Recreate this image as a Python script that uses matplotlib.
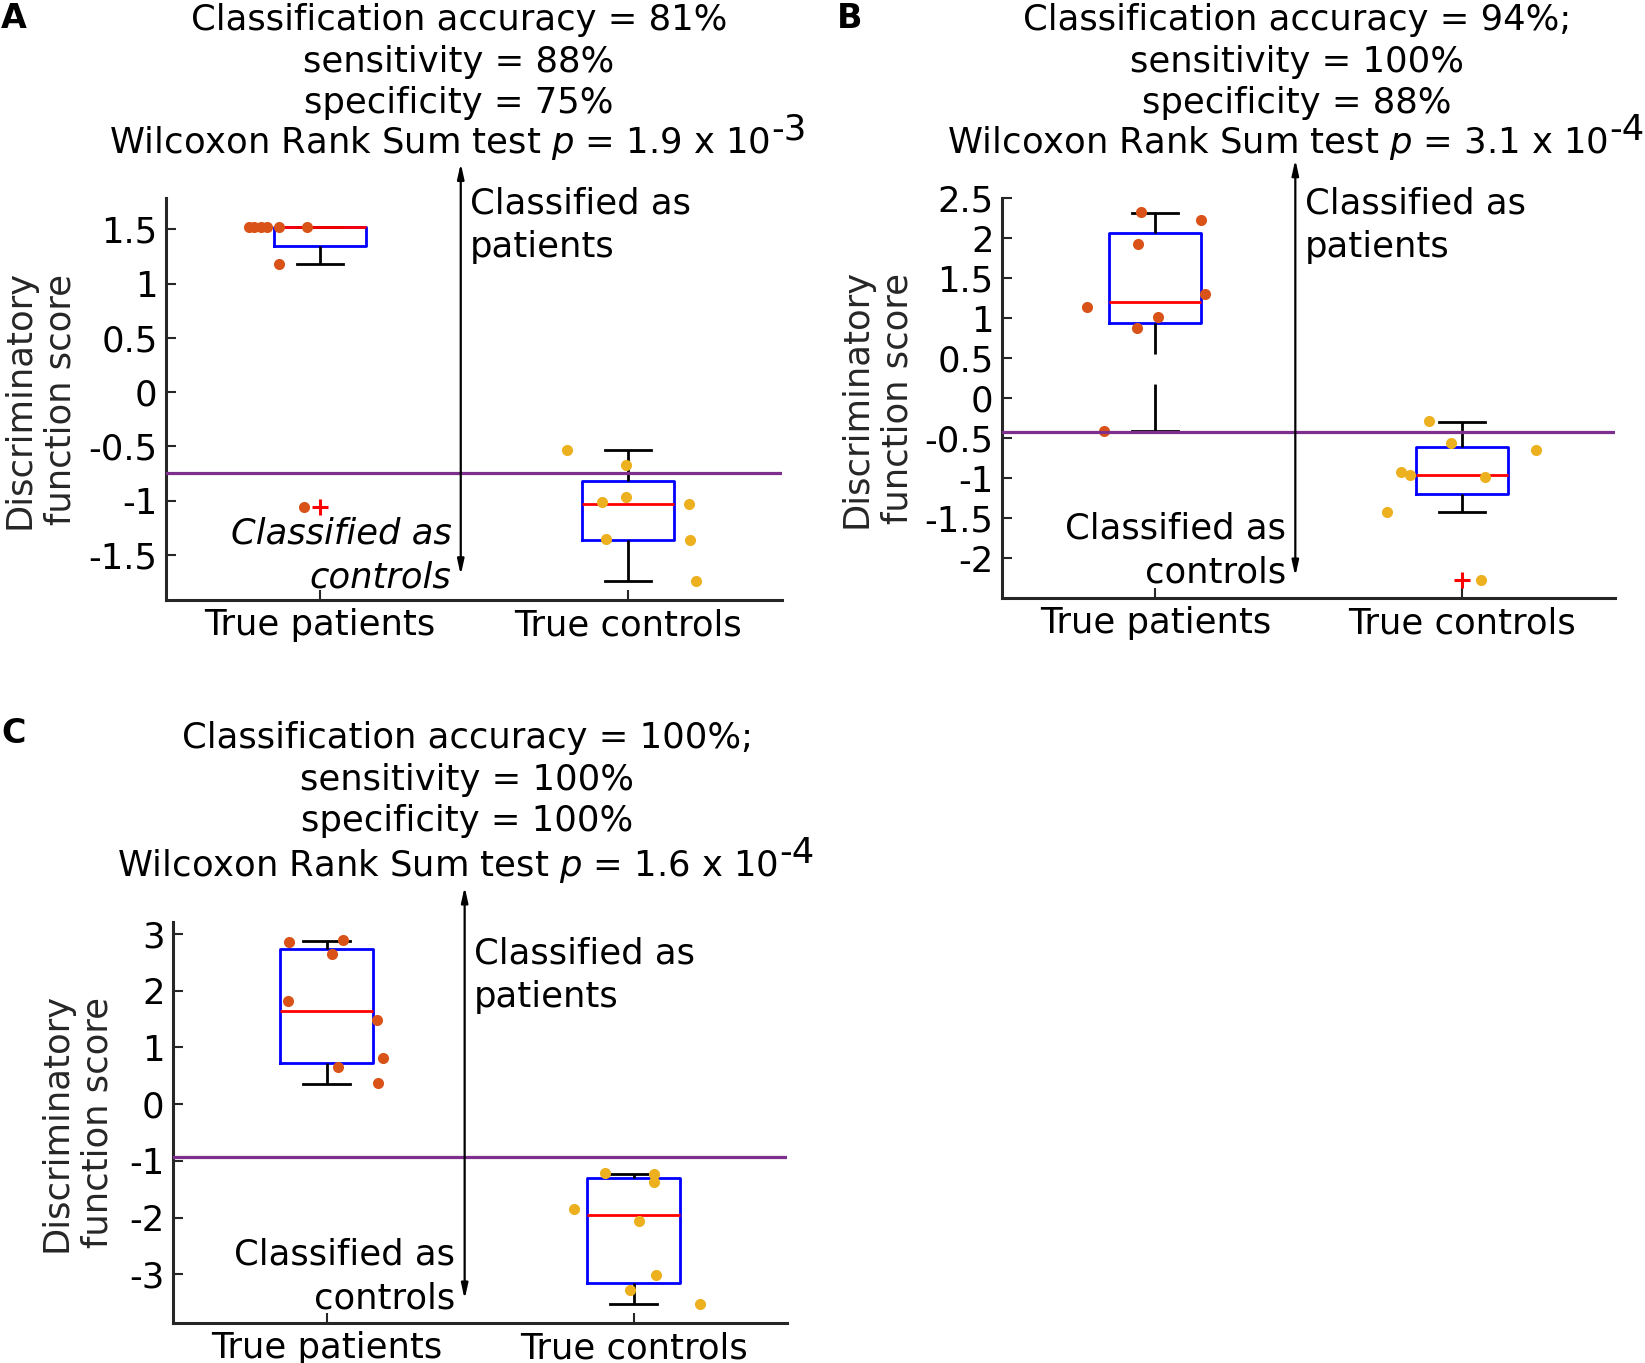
import matplotlib
matplotlib.use("Agg")
import matplotlib.pyplot as plt

plt.rcParams['font.family'] = 'DejaVu Sans'
plt.rcParams['axes.unicode_minus'] = False
plt.rcParams['mathtext.fontset'] = 'dejavusans'

groups = ["True patients", "True controls"]

# panel A
a_pat = [1.523, 1.523, 1.523, 1.523, 1.523, 1.523, 1.178, -1.055]
a_pat_jit = [-0.229, -0.213, -0.193, -0.171, -0.133, -0.042, -0.133, -0.051]
a_con = [-0.53, -0.67, -0.963, -1.015, -1.03, -1.357, -1.36, -1.738]
a_con_jit = [-0.198, -0.007, -0.007, -0.083, 0.198, -0.07, 0.2, 0.22]
a_q1 = [1.345, -1.36]
a_med = [1.52, -1.03]
a_q3 = [1.523, -0.818]
a_lo = [1.178, -1.745]
a_hi = [1.523, -0.538]
a_fliers = [[-1.055], []]
a_thr = -0.748
a_yticks = [-1.5, -1, -0.5, 0, 0.5, 1, 1.5]
a_ylabels = ["-1.5", "-1", "-0.5", "0", "0.5", "1", "1.5"]
a_stats = ["Classification accuracy = 81%", "sensitivity = 88%", "specificity = 75%"]
a_p = ("1.9", "-3")

# panel B
b_pat = [2.33, 2.227, 1.924, 1.294, 1.134, 1.013, 0.874, -0.408]
b_pat_jit = [-0.046, 0.149, -0.055, 0.163, -0.223, 0.010, -0.058, -0.168]
b_con = [-0.282, -0.567, -0.651, -0.924, -0.966, -0.983, -1.424, -2.269]
b_con_jit = [-0.107, -0.034, 0.241, -0.198, -0.168, 0.077, -0.244, 0.064]
b_q1 = [0.94, -1.206]
b_med = [1.206, -0.962]
b_q3 = [2.063, -0.618]
b_lo = [-0.416, -1.424]
b_hi = [2.31, -0.294]
b_fliers = [[], [-2.277]]
b_thr = -0.43
b_yticks = [-2, -1.5, -1, -0.5, 0, 0.5, 1, 1.5, 2, 2.5]
b_ylabels = ["-2", "-1.5", "-1", "-0.5", "0", "0.5", "1", "1.5", "2", "2.5"]
b_stats = ["Classification accuracy = 94%;", "sensitivity = 100%", "specificity = 88%"]
b_p = ("3.1", "-4")

# panel C
c_pat = [2.85, 2.886, 2.645, 1.818, 1.49, 0.804, 0.657, 0.364]
c_pat_jit = [-0.121, 0.053, 0.017, -0.126, 0.164, 0.183, 0.038, 0.167]
c_con = [-1.208, -1.232, -1.378, -1.842, -2.065, -3.009, -3.273, -3.525]
c_con_jit = [-0.094, 0.068, 0.068, -0.195, 0.019, 0.072, -0.012, 0.217]
c_q1 = [0.721, -3.155]
c_med = [1.642, -1.96]
c_q3 = [2.739, -1.308]
c_lo = [0.352, -3.519]
c_hi = [2.868, -1.238]
c_fliers = [[], []]
c_thr = -0.933
c_yticks = [-3, -2, -1, 0, 1, 2, 3]
c_ylabels = ["-3", "-2", "-1", "0", "1", "2", "3"]
c_stats = ["Classification accuracy = 100%;", "sensitivity = 100%", "specificity = 100%"]
c_p = ("1.6", "-4")

FS = 25.5
DARK = '#262626'
PAT_COL = '#D95319'
CON_COL = '#EDB120'
PURPLE = '#7E2F8E'

W, H = 1645, 1363
fig = plt.figure(figsize=(W / 100, H / 100), dpi=100)


def panel(rect, pat, pat_jit, con, con_jit, q1, med, q3, lo, hi, fliers, thr,
          ylim, yticks, ylabels, arrow, pat_txt_y, con_txt_y, italic, label_x):
    ax = fig.add_axes(rect)
    stats = []
    for i in range(2):
        stats.append(dict(q1=q1[i], med=med[i], q3=q3[i], whislo=lo[i],
                          whishi=hi[i], fliers=fliers[i]))
    bp = ax.bxp(stats, positions=[1, 2], widths=0.3, capwidths=0.15,
                boxprops=dict(color='b', lw=2),
                medianprops=dict(color='r', lw=2),
                whiskerprops=dict(color='k', lw=2, linestyle=(0, (16.9, 10.8))),
                capprops=dict(color='k', lw=2),
                flierprops=dict(marker='+', markeredgecolor='r', markersize=12, mew=2.2))
    # matlab draws whiskers from the cap towards the box
    for w in bp['whiskers']:
        w.set_ydata(w.get_ydata()[::-1])
    ax.plot([1 + j for j in pat_jit], pat, 'o', color=PAT_COL, ms=8, mec='none', zorder=4)
    ax.plot([2 + j for j in con_jit], con, 'o', color=CON_COL, ms=8, mec='none', zorder=4)
    ax.axhline(thr, color=PURPLE, lw=2.3, zorder=5)
    ax.annotate('', xy=(arrow[0], arrow[2]), xytext=(arrow[0], arrow[1]),
                arrowprops=dict(arrowstyle='<|-|>,head_length=0.9,head_width=0.2',
                                color='k', lw=1.6, shrinkA=0, shrinkB=0),
                annotation_clip=False, zorder=6)
    # va='baseline' anchors the last line of the block
    ax.text(arrow[0] + 0.03, pat_txt_y, "Classified as\npatients", fontsize=FS,
            ha='left', va='baseline', linespacing=1.37)
    ax.text(arrow[0] - 0.03, con_txt_y, "Classified as\ncontrols", fontsize=FS,
            ha='right', va='baseline', multialignment='right', linespacing=1.37,
            style='italic' if italic else 'normal')
    ax.set_xlim(0.5, 2.5)
    ax.set_ylim(ylim)
    ax.set_yticks(yticks)
    ax.set_yticklabels(ylabels)
    ax.set_xticks([1, 2])
    ax.set_xticklabels(groups)
    ax.tick_params(direction='in', length=7, width=1.5, labelsize=FS, colors=DARK,
                   labelcolor='k', pad=6)
    for s in ['top', 'right']:
        ax.spines[s].set_visible(False)
    for s in ['left', 'bottom']:
        ax.spines[s].set_linewidth(2.2)
        ax.spines[s].set_color(DARK)
    ax.text(label_x, 0.5, "Discriminatory\nfunction score", rotation=90, fontsize=FS,
            ha='center', va='center', multialignment='center', linespacing=1.27,
            color=DARK, transform=ax.transAxes)
    return ax


def title(ax, xc, y3, y4, lines, pval):
    # three stat lines, then the Wilcoxon line with a raised full-size exponent
    fig.text(xc / W, 1 - y3 / H, "\n".join(lines), fontsize=FS, ha='center',
             va='baseline', multialignment='center', linespacing=1.27)
    t4 = fig.text((xc - 19) / W, 1 - y4 / H,
                  "Wilcoxon Rank Sum test $p$ = " + pval[0] + " x 10",
                  fontsize=FS, ha='center', va='baseline')
    ax.annotate(pval[1], xy=(1, 0), xycoords=t4, xytext=(0.5, 11),
                textcoords='offset points', fontsize=FS, ha='left', va='bottom',
                annotation_clip=False)


ax_a = panel([166 / W, 1 - 600 / H, 616 / W, 402 / H], a_pat, a_pat_jit, a_con, a_con_jit,
             a_q1, a_med, a_q3, a_lo, a_hi, a_fliers, a_thr, (-1.917, 1.79),
             a_yticks, a_ylabels, (1.457, -1.686, 2.11), 1.246, -1.80, True, -0.204)
ax_b = panel([1002 / W, 1 - 598 / H, 613 / W, 400 / H], b_pat, b_pat_jit, b_con, b_con_jit,
             b_q1, b_med, b_q3, b_lo, b_hi, b_fliers, b_thr, (-2.5, 2.5),
             b_yticks, b_ylabels, (1.457, -2.227, 2.98), 1.76, -2.31, False, -0.204)
ax_c = panel([173 / W, 1 - 1323 / H, 614 / W, 401 / H], c_pat, c_pat_jit, c_con, c_con_jit,
             c_q1, c_med, c_q3, c_lo, c_hi, c_fliers, c_thr, (-3.86, 3.21),
             c_yticks, c_ylabels, (1.45, -3.44, 3.83), 1.71, -3.60, False, -0.156)

title(ax_a, 459, 113, 153, a_stats, a_p)
title(ax_b, 1297, 113, 153, b_stats, b_p)
title(ax_c, 467, 831, 876, c_stats, c_p)

fig.text(14 / W, 1 - 18 / H, "A", fontsize=24, fontweight='bold', ha='center', va='center')
fig.text(850 / W, 1 - 18 / H, "B", fontsize=24, fontweight='bold', ha='center', va='center')
fig.text(14 / W, 1 - 734 / H, "C", fontsize=24, fontweight='bold', ha='center', va='center')

fig.savefig("out.png", dpi=100)
